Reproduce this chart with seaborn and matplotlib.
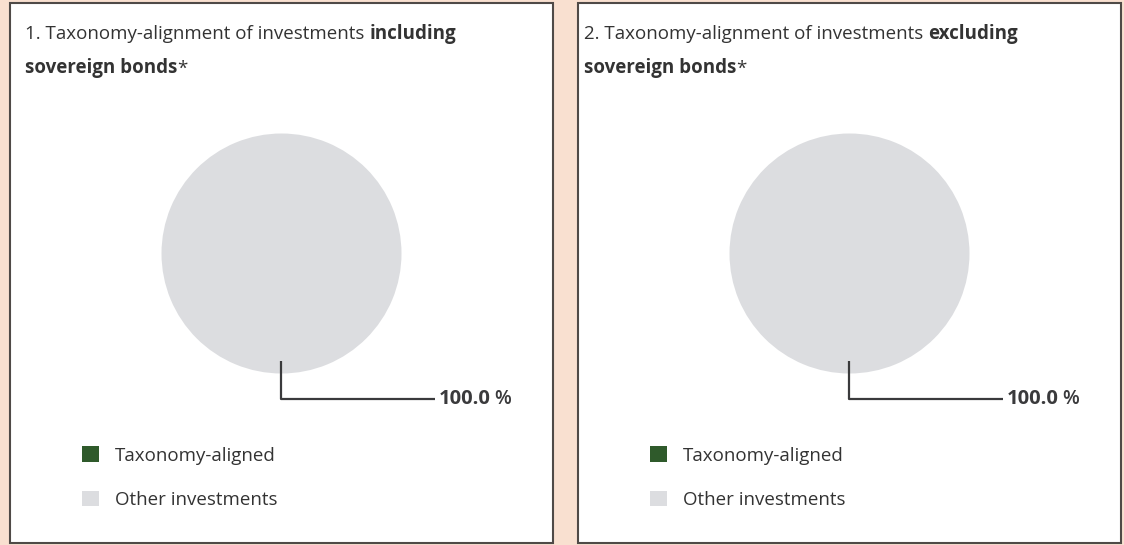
import matplotlib.pyplot as plt
from matplotlib.patches import Rectangle
import seaborn as sns
import numpy as np

# data
categories = ["Taxonomy-aligned", "Other investments"]
incl_values = [0.0, 100.0]
excl_values = [0.0, 100.0]
titles = [
    ("1. Taxonomy-alignment of investments ", "including", "sovereign bonds"),
    ("2. Taxonomy-alignment of investments ", "excluding", "sovereign bonds"),
]

sns.set_theme(style="white")
plt.rcParams['font.family'] = ['Open Sans', 'DejaVu Sans']
palette = sns.color_palette(["#2f5a2b", "#dcdde0"])

W, H = 1124, 545
BG = "#f9e0d0"
TXT = "#333333"
FS = 13.5
fig = plt.figure(figsize=(W / 100, H / 100), dpi=100, facecolor=BG)


def fx(px):
    return px / W


def fy(py):
    return 1 - py / H


panels = [(10, incl_values), (578, excl_values)]
for (x0, values), (t1, t2, t3) in zip(panels, titles):
    # panel box
    fig.add_artist(Rectangle((fx(x0), fy(543)), fx(543), 540 / H,
                             transform=fig.transFigure, facecolor="white",
                             edgecolor="#4f4a47", linewidth=1.5, zorder=0))
    # title, regular + bold runs
    tx = x0 + 15 if x0 < 100 else x0 + 6
    a = fig.text(fx(tx), fy(39), t1, fontsize=FS, color=TXT, va="baseline")
    fig.add_artist(plt.Annotation(t2, xy=(1, 0), xycoords=a, va="bottom",
                                  xytext=(0, -0.6), textcoords="offset points",
                                  fontsize=FS, fontweight="bold", color=TXT))
    b = fig.text(fx(tx), fy(73), t3, fontsize=FS, color=TXT,
                 fontweight="bold", va="baseline")
    fig.add_artist(plt.Annotation("*", xy=(1, 0), xycoords=b, va="bottom",
                                  fontsize=FS, color=TXT))

    # pie
    cx, cy = x0 + 271.5, 253.5
    ax = fig.add_axes([fx(cx - 150), fy(cy + 150), fx(300), 300 / H])
    wedges, _ = ax.pie(values, colors=palette, startangle=90, counterclock=False,
                       radius=1, wedgeprops=dict(linewidth=0))
    ax.set_xlim(-1.25, 1.25)
    ax.set_ylim(-1.25, 1.25)
    ax.axis("off")

    # leader line and label for non-zero slices
    for w, v in zip(wedges, values):
        if v <= 0:
            continue
        th = np.deg2rad((w.theta1 + w.theta2) / 2)
        sx, sy = 0.9 * np.cos(th), 0.9 * np.sin(th)
        ey = 1.21 * np.sin(th)
        ax.plot([sx, sx, 1.28], [sy, ey, ey], color="#3a3a3c", lw=1.6,
                clip_on=False, solid_capstyle="butt")
        lab = ax.text(1.31, ey, f"{v:.1f}", fontsize=14.5, fontweight="bold",
                      color="#3a3a3c", va="center", ha="left")
        ax.annotate("%", xy=(1, 0.5), xycoords=lab, xytext=(3, 0),
                    textcoords="offset points", va="center", ha="left",
                    fontsize=14, fontweight="semibold", color="#3a3a3c")

    # legend
    fig.legend(wedges, categories, loc="upper left",
               bbox_to_anchor=(fx(x0 + 63), fy(437)), frameon=False,
               fontsize=13.5, handlelength=0.9, handleheight=0.9,
               handletextpad=0.85, labelspacing=1.38, borderpad=0,
               labelcolor=TXT)

fig.savefig("out.png", dpi=100, facecolor=BG)
